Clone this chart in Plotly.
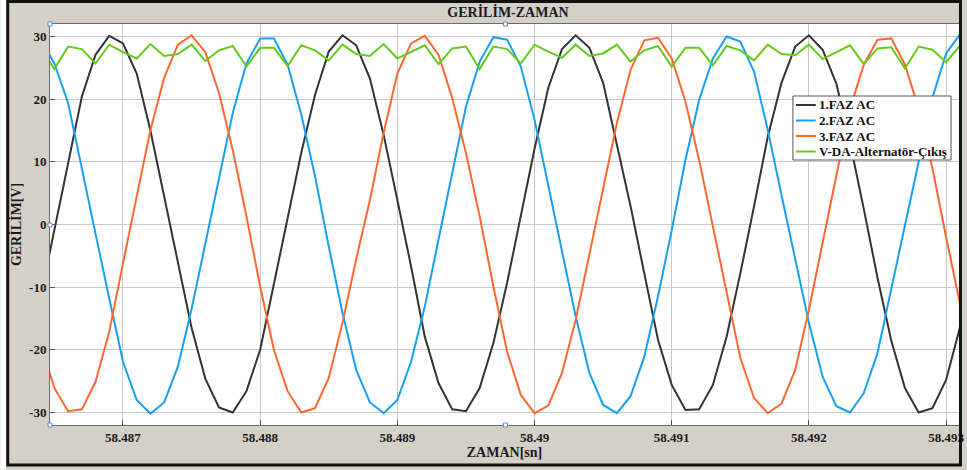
import plotly.graph_objects as go

# ---------------- data ----------------
time_s = [58.4864, 58.4865, 58.4866, 58.4867, 58.4868, 58.4869, 58.4870, 58.4871,
          58.4872, 58.4873, 58.4874, 58.4875, 58.4876, 58.4877, 58.4878, 58.4879,
          58.4880, 58.4881, 58.4882, 58.4883, 58.4884, 58.4885, 58.4886, 58.4887,
          58.4888, 58.4889, 58.4890, 58.4891, 58.4892, 58.4893, 58.4894, 58.4895,
          58.4896, 58.4897, 58.4898, 58.4899, 58.4900, 58.4901, 58.4902, 58.4903,
          58.4904, 58.4905, 58.4906, 58.4907, 58.4908, 58.4909, 58.4910, 58.4911,
          58.4912, 58.4913, 58.4914, 58.4915, 58.4916, 58.4917, 58.4918, 58.4919,
          58.4920, 58.4921, 58.4922, 58.4923, 58.4924, 58.4925, 58.4926, 58.4927,
          58.4928, 58.4929, 58.4930, 58.4931, 58.4932]

faz1 = [-11.5, -0.8, 10.0, 20.4, 27.1, 30.1, 28.9, 24.1, 15.0, 4.5, -6.5, -16.5,
        -24.6, -29.2, -30.0, -26.6, -20.0, -9.5, 1.3, 11.5, 20.7, 27.6, 30.2, 28.6,
        23.3, 14.3, 3.9, -6.7, -17.9, -25.3, -29.5, -29.8, -26.1, -18.9, -9.3, 1.6,
        12.1, 21.8, 28.0, 30.2, 28.2, 22.6, 13.0, 2.9, -7.8, -18.4, -25.6, -29.6,
        -29.5, -25.6, -17.9, -7.8, 2.9, 14.0, 22.6, 28.4, 30.2, 27.9, 22.5, 13.0,
        2.5, -8.5, -18.5, -26.1, -30.0, -29.3, -24.8, -16.5, -6.0]

faz2 = [29.5, 25.7, 19.4, 8.7, -1.5, -11.8, -21.9, -28.0, -30.2, -28.4, -22.7, -13.5,
        -3.0, 7.5, 17.8, 25.7, 29.7, 29.7, 25.5, 17.5, 7.7, -3.5, -14.1, -23.2,
        -28.4, -30.1, -28.0, -21.9, -13.1, -2.4, 8.2, 18.8, 26.0, 29.9, 29.5, 25.2,
        16.7, 6.1, -4.6, -14.7, -23.7, -28.8, -30.1, -27.4, -21.1, -11.5, -0.9, 10.3,
        19.9, 26.5, 30.0, 29.2, 24.4, 15.1, 4.7, -5.6, -15.7, -24.3, -29.0, -30.0,
        -26.9, -20.5, -10.4, 0.2, 10.3, 20.2, 27.3, 30.3, 29.2]

faz3 = [-19.0, -26.1, -29.8, -29.5, -25.1, -17.1, -6.2, 4.5, 15.1, 23.4, 28.7, 30.2,
        27.5, 21.0, 11.9, 1.3, -9.9, -20.0, -26.6, -30.0, -29.3, -24.5, -15.7, -5.5,
        3.9, 14.6, 24.1, 28.9, 30.1, 27.1, 20.2, 11.4, 1.3, -9.9, -20.3, -27.2,
        -30.1, -28.9, -23.7, -15.2, -4.6, 6.1, 16.2, 24.7, 29.4, 29.8, 26.5, 19.6,
        10.3, -0.3, -11.0, -21.3, -27.7, -30.1, -28.6, -23.2, -13.6, -3.0, 8.0, 18.5,
        25.5, 29.5, 29.7, 25.5, 18.5, 9.0, -2.0, -12.5, -22.0]

vda = [28.2, 24.8, 28.4, 28.0, 25.7, 28.7, 27.5, 26.5, 28.8, 26.9, 27.2, 28.7,
       26.1, 27.8, 28.5, 25.2, 28.2, 28.2, 25.3, 28.6, 27.8, 26.2, 28.7, 27.2,
       26.9, 28.8, 26.5, 27.6, 28.6, 25.6, 28.1, 28.4, 24.8, 28.4, 28.0, 25.7,
       28.7, 27.6, 26.6, 28.7, 26.9, 27.3, 28.7, 26.0, 27.8, 28.5, 25.2, 28.2,
       28.2, 25.4, 28.5, 27.8, 26.2, 28.7, 27.2, 27.0, 28.7, 26.4, 27.5, 28.6,
       25.6, 28.1, 28.3, 24.9, 28.4, 27.9, 25.9, 28.5, 27.5]

series_names = ["1.FAZ AC", "2.FAZ AC", "3.FAZ AC", "V-DA-Alternatör-Çıkış"]
series_values = [faz1, faz2, faz3, vda]
series_colors = ["#333333", "#1a9ff0", "#fb6830", "#66c91e"]

x_tickvals = [58.487, 58.488, 58.489, 58.490, 58.491, 58.492, 58.493]
x_ticktext = ["58.487", "58.488", "58.489", "58.49", "58.491", "58.492", "58.493"]
y_tickvals = [-30, -20, -10, 0, 10, 20, 30]
y_ticktext = ["-30", "-20", "-10", "0", "10", "20", "30"]

chart_title = "GERİLİM-ZAMAN"
x_title = "ZAMAN[sn]"
y_title = "GERİLİM[V]"

# ---------------- layout geometry (pixels) ----------------
W, H = 967, 470
PL, PR, PT, PB = 50, 964, 24, 425


def px(x):
    return (x - PL) / (PR - PL)


def py(y):
    return (PB - y) / (PB - PT)


SERIF = "Liberation Serif"
BG = "#d4d0c8"

fig = go.Figure()
for name, vals, col in zip(series_names, series_values, series_colors):
    fig.add_trace(go.Scatter(x=time_s, y=vals, mode="lines", name=name,
                             line=dict(color=col, width=2), showlegend=False))

axis_font = dict(family=SERIF, size=13, color="#1a1a1a", weight="bold")

fig.update_layout(
    width=W, height=H, autosize=False,
    margin=dict(l=PL, r=W - PR, t=PT, b=H - PB, pad=0),
    paper_bgcolor=BG, plot_bgcolor="white",
    title=dict(text=chart_title, x=508 / W, xanchor="center",
               y=1 - 12 / H, yanchor="middle", yref="container",
               font=dict(family=SERIF, size=14, color="#1a1a1a", weight="bold")),
    xaxis=dict(range=[58.486468, 58.493094], tickvals=x_tickvals, ticktext=x_ticktext,
               ticks="inside", ticklen=5, tickcolor="#555555", tickfont=axis_font,
               ticklabeloverflow="allow",
               showgrid=True, gridcolor="#c9c9c9", gridwidth=1, zeroline=False,
               showline=True, linecolor="#6a6a6a", linewidth=1, mirror=True,
               title=dict(text=x_title, standoff=2,
                          font=dict(family=SERIF, size=14, color="#1a1a1a", weight="bold"))),
    yaxis=dict(range=[-32, 32], tickvals=y_tickvals, ticktext=y_ticktext,
               ticks="inside", ticklen=5, tickcolor="#555555", tickfont=axis_font,
               showgrid=True, gridcolor="#c9c9c9", gridwidth=1, zeroline=False,
               showline=True, linecolor="#6a6a6a", linewidth=1, mirror=True,
               title=dict(text=y_title, standoff=4,
                          font=dict(family=SERIF, size=14, color="#1a1a1a", weight="bold"))),
)

shapes = []
annotations = []

# outer figure frame
shapes.append(dict(type="rect", xref="paper", yref="paper",
                   x0=px(0), x1=px(6), y0=py(0), y1=py(H), fillcolor="white",
                   line=dict(width=0), layer="above"))
shapes.append(dict(type="rect", xref="paper", yref="paper",
                   x0=px(7.5), x1=px(965.5), y0=py(1.5), y1=py(465),
                   line=dict(color="#111111", width=3), layer="above"))

# legend (manual, to match the compact reference box)
LX0, LX1, LY0, LY1 = 797, 956, 96, 160
shapes.append(dict(type="rect", xref="paper", yref="paper",
                   x0=px(LX0), x1=px(LX1), y0=py(LY0), y1=py(LY1),
                   fillcolor="white", line=dict(color="#555555", width=1), layer="above"))
row_y = [105, 120.5, 136, 151.5]
for name, col, ry in zip(series_names, series_colors, row_y):
    shapes.append(dict(type="line", xref="paper", yref="paper",
                       x0=px(800), x1=px(820), y0=py(ry), y1=py(ry),
                       line=dict(color=col, width=2), layer="above"))
    annotations.append(dict(text=name, xref="paper", yref="paper",
                            x=px(821), y=py(ry), xanchor="left", yanchor="middle",
                            showarrow=False,
                            font=dict(family=SERIF, size=13, color="#111111", weight="bold")))

# small blue selection handles seen on the axes box
for hx, hy in [(50, 24), (508, 24), (50, 225), (50, 425), (508, 425)]:
    shapes.append(dict(type="rect", xref="paper", yref="paper",
                       x0=px(hx - 2), x1=px(hx + 2), y0=py(hy - 2), y1=py(hy + 2),
                       fillcolor="white", line=dict(color="#5b8fd0", width=1), layer="above"))

fig.update_layout(shapes=shapes, annotations=annotations)
fig.write_html("out.html")
